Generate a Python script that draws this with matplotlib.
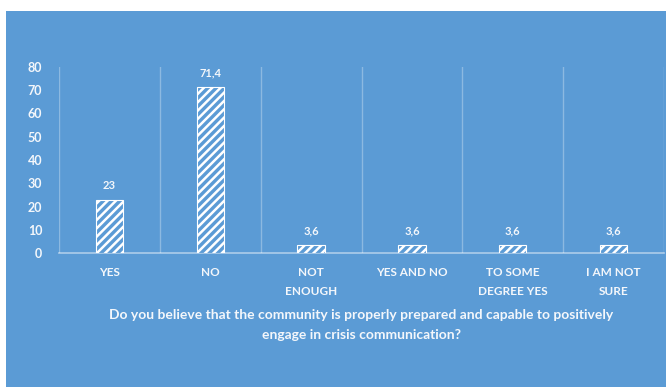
import matplotlib.pyplot as plt
import numpy as np
from matplotlib.patches import Rectangle

plt.rcParams['font.family'] = ['Lato', 'DejaVu Sans']
plt.rcParams['hatch.color'] = 'white'
plt.rcParams['hatch.linewidth'] = 1.8

categorias = ['YES', 'NO', 'NOT\nENOUGH', 'YES AND NO', 'TO SOME\nDEGREE YES', 'I AM NOT\nSURE']
valores = [23, 71.4, 3.6, 3.6, 3.6, 3.6]
ticks_y = [0, 10, 20, 30, 40, 50, 60, 70, 80]
titulo_x = ('Do you believe that the community is properly prepared and capable to positively\n'
            'engage in crisis communication?')

azul = '#5B9BD5'
blanco = '#F4F7FB'

fig = plt.figure(figsize=(6.66, 3.89), dpi=100, facecolor='white')
# fondo azul del grafico (con margen blanco arriba e izquierda)
fig.patches.append(Rectangle((6 / 666, 2 / 389), 660 / 666, 376 / 389,
                             transform=fig.transFigure, facecolor=azul,
                             edgecolor='none', zorder=-10))

ax = fig.add_axes([59 / 666, 1 - 253 / 389, 605 / 666, 186 / 389])
ax.set_facecolor('none')

x = np.arange(len(categorias))
barras = ax.bar(x, valores, width=0.27, color=azul, edgecolor='white',
                hatch='////', linewidth=0.8, zorder=3)

for b, v in zip(barras, valores):
    etiqueta = ('%g' % v).replace('.', ',')
    ax.annotate(etiqueta, (b.get_x() + b.get_width() / 2, v), xytext=(0, 6),
                textcoords='offset points', ha='center', va='bottom',
                color=blanco, fontsize=8, fontweight='bold')

ax.set_xlim(-0.5, len(categorias) - 0.5)
ax.set_ylim(0, 80)
ax.set_yticks(ticks_y)
ax.set_xticks(x)
ax.set_xticklabels(categorias, fontsize=8.5, fontweight='bold', color=blanco,
                   linespacing=1.9)
ax.set_xticks(np.arange(-0.5, len(categorias)), minor=True)
ax.grid(which='minor', axis='x', color='white', alpha=0.3, linewidth=1)
ax.tick_params(axis='both', which='both', length=0)
ax.tick_params(axis='x', pad=10)
ax.tick_params(axis='y', labelsize=9, labelcolor=blanco, pad=12)
for lbl in ax.get_yticklabels():
    lbl.set_fontweight('bold')

for s in ['top', 'right', 'left']:
    ax.spines[s].set_visible(False)
ax.spines['bottom'].set_color((1, 1, 1, 0.5))
ax.spines['bottom'].set_linewidth(1.2)

ax.set_xlabel(titulo_x, fontsize=10, fontweight='bold', color=blanco,
              labelpad=9, linespacing=1.75)

fig.savefig('out.png', dpi=100, facecolor='white')
